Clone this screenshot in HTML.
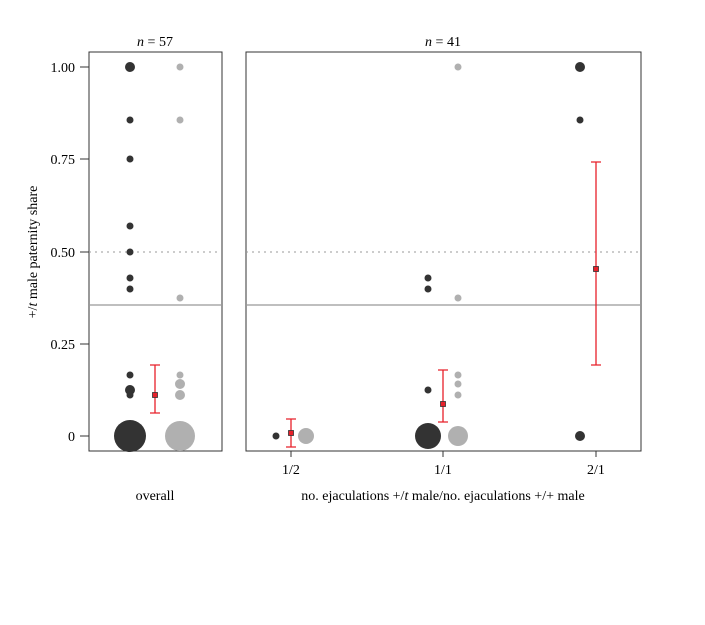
<!DOCTYPE html><html><head><style>body{margin:0;background:#fff}text{font-family:"Liberation Serif",serif;fill:#000}</style></head><body>
<svg width="705" height="620" xmlns="http://www.w3.org/2000/svg">
<g font-size="14">
<text x="155" y="46" text-anchor="middle"><tspan font-style="italic">n</tspan> = 57</text>
<text x="443" y="46" text-anchor="middle"><tspan font-style="italic">n</tspan> = 41</text>
<text x="155" y="500" text-anchor="middle">overall</text>
<text x="443" y="500" text-anchor="middle">no. ejaculations +/<tspan font-style="italic">t</tspan> male/no. ejaculations +/+ male</text>
<text x="291" y="474" text-anchor="middle">1/2</text><text x="443" y="474" text-anchor="middle">1/1</text><text x="596" y="474" text-anchor="middle">2/1</text>
<text x="75" y="72" text-anchor="end">1.00</text><text x="75" y="164" text-anchor="end">0.75</text><text x="75" y="257" text-anchor="end">0.50</text><text x="75" y="349" text-anchor="end">0.25</text><text x="75" y="441" text-anchor="end">0</text>
<text transform="translate(37,252) rotate(-90)" text-anchor="middle">+/<tspan font-style="italic">t</tspan> male paternity share</text>
</g>
<g stroke="#333" stroke-width="1"><line x1="80" y1="67" x2="89" y2="67"/><line x1="80" y1="159" x2="89" y2="159"/><line x1="80" y1="252" x2="89" y2="252"/><line x1="80" y1="344" x2="89" y2="344"/><line x1="80" y1="436" x2="89" y2="436"/>
<line x1="291" y1="451" x2="291" y2="457"/><line x1="443" y1="451" x2="443" y2="457"/><line x1="596" y1="451" x2="596" y2="457"/></g>
<rect x="89" y="52" width="133" height="399" fill="none" stroke="#333"/>
<rect x="246" y="52" width="395" height="399" fill="none" stroke="#333"/>
<g stroke="#999" stroke-dasharray="2,4"><line x1="89" y1="252" x2="222" y2="252"/><line x1="246" y1="252" x2="641" y2="252"/></g>
<g stroke="#999" stroke-width="1.3"><line x1="89" y1="305" x2="222" y2="305"/><line x1="246" y1="305" x2="641" y2="305"/></g>
<g fill="#333"><circle cx="130" cy="67" r="5"/><circle cx="130" cy="120" r="3.5"/><circle cx="130" cy="159" r="3.5"/><circle cx="130" cy="226" r="3.5"/><circle cx="130" cy="252" r="3.5"/><circle cx="130" cy="278" r="3.5"/><circle cx="130" cy="289" r="3.5"/><circle cx="130" cy="375" r="3.5"/><circle cx="130" cy="390" r="5"/><circle cx="130" cy="395" r="3.5"/><circle cx="130" cy="436" r="16"/>
<circle cx="276" cy="436" r="3.5"/><circle cx="428" cy="278" r="3.5"/><circle cx="428" cy="289" r="3.5"/><circle cx="428" cy="390" r="3.5"/><circle cx="428" cy="436" r="13"/><circle cx="580" cy="67" r="5"/><circle cx="580" cy="120" r="3.5"/><circle cx="580" cy="436" r="5"/></g>
<g fill="#b0b0b0"><circle cx="180" cy="67" r="3.5"/><circle cx="180" cy="120" r="3.5"/><circle cx="180" cy="298" r="3.5"/><circle cx="180" cy="375" r="3.5"/><circle cx="180" cy="384" r="5"/><circle cx="180" cy="395" r="5"/><circle cx="180" cy="436" r="15"/>
<circle cx="306" cy="436" r="8"/><circle cx="458" cy="67" r="3.5"/><circle cx="458" cy="298" r="3.5"/><circle cx="458" cy="375" r="3.5"/><circle cx="458" cy="384" r="3.5"/><circle cx="458" cy="395" r="3.5"/><circle cx="458" cy="436" r="10"/></g>
<g stroke="#e8202a" stroke-width="1.3" fill="none">
<path d="M155 365V413M150 365H160M150 413H160"/><path d="M291 419V447M286 419H296M286 447H296"/><path d="M443 370V422M438 370H448M438 422H448"/><path d="M596 162V365M591 162H601M591 365H601"/></g>
<g fill="#e8202a" stroke="#333" stroke-width="0.8"><rect x="152.5" y="392.5" width="5" height="5"/><rect x="288.5" y="430.5" width="5" height="5"/><rect x="440.5" y="401.5" width="5" height="5"/><rect x="593.5" y="266.5" width="5" height="5"/></g>
</svg></body></html>
